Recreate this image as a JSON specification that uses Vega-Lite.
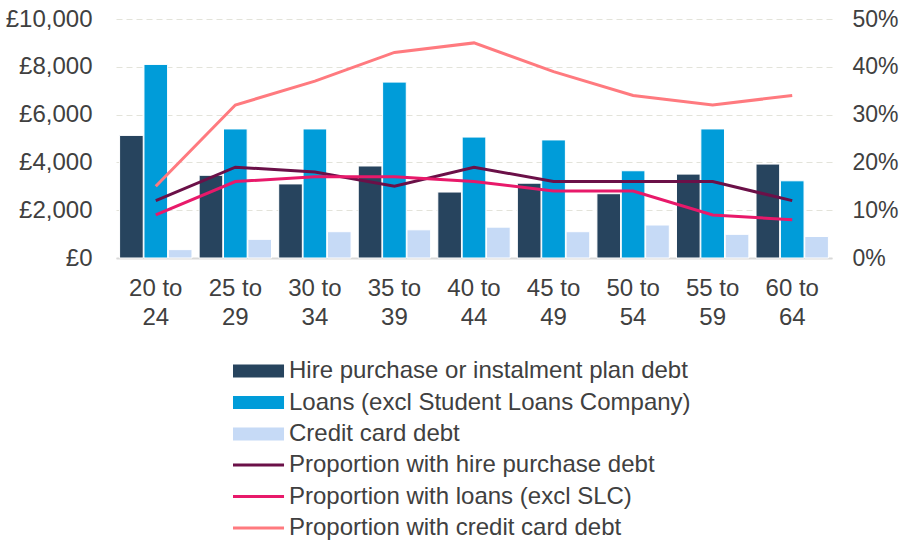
{
  "$schema": "https://vega.github.io/schema/vega-lite/v6.json",
  "width": 716,
  "height": 239,
  "autosize": {"type": "none"},
  "padding": {"left": 116, "top": 19, "right": 68, "bottom": 285},
  "background": "white",
  "config": {
    "view": {"stroke": null},
    "font": "Liberation Sans",
    "axis": {"labelFont": "Liberation Sans", "labelFontSize": 24, "labelColor": "#404040", "ticks": false, "title": null},
    "legend": {"labelFont": "Liberation Sans", "labelFontSize": 24, "labelColor": "#404040", "labelLimit": 700, "padding": 0, "title": null}
  },
  "datasets": {
    "bars": [
      {"age": "20 to 24", "series": "Hire purchase or instalment plan debt", "value": 5130},
      {"age": "20 to 24", "series": "Loans (excl Student Loans Company)", "value": 8100},
      {"age": "20 to 24", "series": "Credit card debt", "value": 350},
      {"age": "25 to 29", "series": "Hire purchase or instalment plan debt", "value": 3460},
      {"age": "25 to 29", "series": "Loans (excl Student Loans Company)", "value": 5400},
      {"age": "25 to 29", "series": "Credit card debt", "value": 780},
      {"age": "30 to 34", "series": "Hire purchase or instalment plan debt", "value": 3100},
      {"age": "30 to 34", "series": "Loans (excl Student Loans Company)", "value": 5400},
      {"age": "30 to 34", "series": "Credit card debt", "value": 1100},
      {"age": "35 to 39", "series": "Hire purchase or instalment plan debt", "value": 3850},
      {"age": "35 to 39", "series": "Loans (excl Student Loans Company)", "value": 7360},
      {"age": "35 to 39", "series": "Credit card debt", "value": 1180},
      {"age": "40 to 44", "series": "Hire purchase or instalment plan debt", "value": 2760},
      {"age": "40 to 44", "series": "Loans (excl Student Loans Company)", "value": 5060},
      {"age": "40 to 44", "series": "Credit card debt", "value": 1290},
      {"age": "45 to 49", "series": "Hire purchase or instalment plan debt", "value": 3130},
      {"age": "45 to 49", "series": "Loans (excl Student Loans Company)", "value": 4940},
      {"age": "45 to 49", "series": "Credit card debt", "value": 1100},
      {"age": "50 to 54", "series": "Hire purchase or instalment plan debt", "value": 2690},
      {"age": "50 to 54", "series": "Loans (excl Student Loans Company)", "value": 3650},
      {"age": "50 to 54", "series": "Credit card debt", "value": 1380},
      {"age": "55 to 59", "series": "Hire purchase or instalment plan debt", "value": 3510},
      {"age": "55 to 59", "series": "Loans (excl Student Loans Company)", "value": 5400},
      {"age": "55 to 59", "series": "Credit card debt", "value": 990},
      {"age": "60 to 64", "series": "Hire purchase or instalment plan debt", "value": 3930},
      {"age": "60 to 64", "series": "Loans (excl Student Loans Company)", "value": 3230},
      {"age": "60 to 64", "series": "Credit card debt", "value": 900}
    ],
    "lines": [
      {"age": "20 to 24", "series": "Proportion with hire purchase debt", "pct": 0.12},
      {"age": "25 to 29", "series": "Proportion with hire purchase debt", "pct": 0.19},
      {"age": "30 to 34", "series": "Proportion with hire purchase debt", "pct": 0.18},
      {"age": "35 to 39", "series": "Proportion with hire purchase debt", "pct": 0.15},
      {"age": "40 to 44", "series": "Proportion with hire purchase debt", "pct": 0.19},
      {"age": "45 to 49", "series": "Proportion with hire purchase debt", "pct": 0.16},
      {"age": "50 to 54", "series": "Proportion with hire purchase debt", "pct": 0.16},
      {"age": "55 to 59", "series": "Proportion with hire purchase debt", "pct": 0.16},
      {"age": "60 to 64", "series": "Proportion with hire purchase debt", "pct": 0.12},
      {"age": "20 to 24", "series": "Proportion with loans (excl SLC)", "pct": 0.09},
      {"age": "25 to 29", "series": "Proportion with loans (excl SLC)", "pct": 0.16},
      {"age": "30 to 34", "series": "Proportion with loans (excl SLC)", "pct": 0.17},
      {"age": "35 to 39", "series": "Proportion with loans (excl SLC)", "pct": 0.17},
      {"age": "40 to 44", "series": "Proportion with loans (excl SLC)", "pct": 0.16},
      {"age": "45 to 49", "series": "Proportion with loans (excl SLC)", "pct": 0.14},
      {"age": "50 to 54", "series": "Proportion with loans (excl SLC)", "pct": 0.14},
      {"age": "55 to 59", "series": "Proportion with loans (excl SLC)", "pct": 0.09},
      {"age": "60 to 64", "series": "Proportion with loans (excl SLC)", "pct": 0.08},
      {"age": "20 to 24", "series": "Proportion with credit card debt", "pct": 0.15},
      {"age": "25 to 29", "series": "Proportion with credit card debt", "pct": 0.32},
      {"age": "30 to 34", "series": "Proportion with credit card debt", "pct": 0.37},
      {"age": "35 to 39", "series": "Proportion with credit card debt", "pct": 0.43},
      {"age": "40 to 44", "series": "Proportion with credit card debt", "pct": 0.45},
      {"age": "45 to 49", "series": "Proportion with credit card debt", "pct": 0.39},
      {"age": "50 to 54", "series": "Proportion with credit card debt", "pct": 0.34},
      {"age": "55 to 59", "series": "Proportion with credit card debt", "pct": 0.32},
      {"age": "60 to 64", "series": "Proportion with credit card debt", "pct": 0.34}
    ]
  },
  "encoding": {
    "x": {
      "field": "age", "type": "nominal", "sort": null,
      "scale": {"paddingInner": 0.09, "paddingOuter": 0.045},
      "axis": {"labelAngle": 0, "labelExpr": "[slice(datum.label,0,5), slice(datum.label,6)]", "labelLineHeight": 29, "labelPadding": 18, "domainColor": "#d9d9d9", "domainWidth": 2, "grid": false}
    }
  },
  "layer": [
    {
      "data": {"name": "bars"},
      "mark": {"type": "bar", "stroke": "white", "strokeWidth": 1},
      "encoding": {
        "xOffset": {
          "field": "series", "type": "nominal",
          "scale": {"domain": ["Hire purchase or instalment plan debt", "Loans (excl Student Loans Company)", "Credit card debt"], "paddingInner": 0.03}
        },
        "y": {
          "field": "value", "type": "quantitative",
          "scale": {"domain": [0, 10000]},
          "axis": {"orient": "left", "values": [0, 2000, 4000, 6000, 8000, 10000], "labelExpr": "'£' + format(datum.value, ',')", "grid": true, "gridDash": [6, 4], "gridColor": "#e3e3da", "domain": false, "labelPadding": 24}
        },
        "color": {
          "field": "series", "type": "nominal",
          "scale": {
            "domain": ["Hire purchase or instalment plan debt", "Loans (excl Student Loans Company)", "Credit card debt"],
            "range": ["#27445e", "#009cd9", "#c6daf6"]
          },
          "legend": {
            "orient": "none", "legendX": 111.5, "legendY": 340, "direction": "vertical", "columns": 1,
            "symbolType": "M-1,-1H6.85V1H-1Z", "symbolSize": 169, "symbolStrokeWidth": 0,
            "rowPadding": 7.5, "labelOffset": 37.5
          }
        }
      }
    },
    {
      "data": {"name": "lines"},
      "mark": {"type": "line", "strokeWidth": 3},
      "encoding": {
        "y": {
          "field": "pct", "type": "quantitative",
          "scale": {"domain": [0, 0.5]},
          "axis": {"orient": "right", "values": [0, 0.1, 0.2, 0.3, 0.4, 0.5], "format": ".0%", "grid": false, "domain": false, "labelPadding": 20, "labelFontSize": 23}
        },
        "color": {
          "field": "series", "type": "nominal",
          "scale": {
            "domain": ["Proportion with hire purchase debt", "Proportion with loans (excl SLC)", "Proportion with credit card debt"],
            "range": ["#6b1048", "#e8196a", "#ff7a7f"]
          },
          "legend": {
            "orient": "none", "legendX": 111.5, "legendY": 434, "direction": "vertical", "columns": 1,
            "symbolType": "M-1,0H6.85", "symbolSize": 169, "symbolStrokeWidth": 3,
            "rowPadding": 7.5, "labelOffset": 37.5
          }
        }
      }
    }
  ],
  "resolve": {"scale": {"y": "independent", "color": "independent"}}
}
